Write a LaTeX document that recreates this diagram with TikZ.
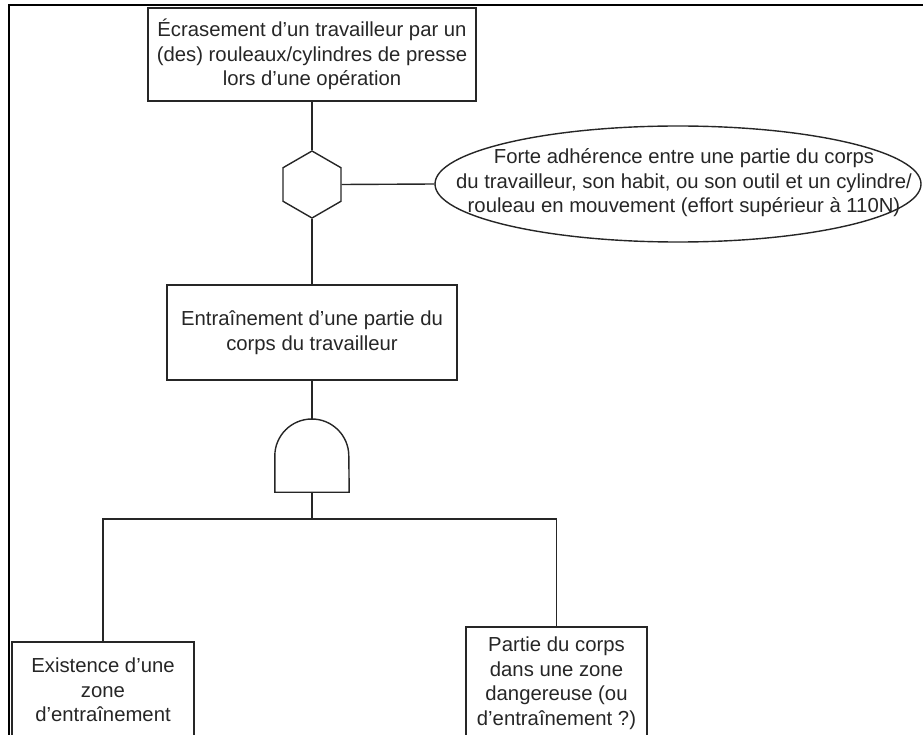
\documentclass[tikz,border=0pt]{standalone}
\usepackage{fontspec}
\setmainfont{Liberation Sans}
\usetikzlibrary{shapes.geometric}

\begin{document}
\begin{tikzpicture}[
    x=1pt, y=-1pt,
    font=\fontsize{20.3}{24.5}\selectfont,
    every node/.style={text=black!85},
    eventbox/.style={rectangle, draw=black!85, line width=1.4pt, align=center, inner sep=0pt},
    gatehex/.style={regular polygon, regular polygon sides=6, regular polygon rotate=30, minimum size=67pt, inner sep=0pt, draw=black!85, line width=1.4pt},
    condition/.style={ellipse, minimum width=486pt, minimum height=116pt, inner sep=0pt, draw=black!85, line width=1.4pt},
    andgate/.style={rectangle, minimum width=74pt, minimum height=72pt, inner sep=0pt},
    link/.style={draw=black!85, line width=1.4pt}
]

\useasboundingbox (0,0) rectangle (923,735);

% Frame
\draw[line width=1.5pt] (9,745) -- (9,5) -- (935,5);

% Events
\node[eventbox, minimum width=328pt, minimum height=93pt] (top) at (312,54.5) {Écrasement d’un travailleur par un\\(des) rouleaux/cylindres de presse\\lors d’une opération};
\node[eventbox, minimum width=290pt, minimum height=95pt] (mid) at (312,332.5) {Entraînement d’une partie du\\corps du travailleur};
\node[eventbox, minimum width=182pt, minimum height=96pt] (left) at (103,690) {Existence d’une\\zone\\d’entraînement};
\node[eventbox, minimum width=181pt, minimum height=112pt] (right) at (556.5,683) {Partie du corps\\dans une zone\\dangereuse (ou\\d’entraînement ?)};

% Inhibit gate and its condition
\node[gatehex] (hex) at (312,184.5) {};
\node[condition] (cond) at (678,184) {};
\node[align=center] (condtext) at (684,183) {Forte adhérence entre une partie du corps\\du travailleur, son habit, ou son outil et un cylindre/\\rouleau en mouvement (effort supérieur à 110N)};

% AND gate
\node[andgate] (and1) at (312,456) {};
\draw[link] (and1.south west) -- (and1.west) arc[start angle=180, end angle=0, radius=37pt] -- (and1.south east) -- cycle;
\coordinate (bus) at (312,519);

% Connections
\draw[link] (top.south) -- (hex.north);
\draw[link] (hex.east) -- (cond.west);
\draw[link] (hex.south) -- (mid.north);
\draw[link] (mid.south) -- (and1.north);
\draw[link] (and1.south) -- (bus);
\draw[link] (left.north) |- (bus) -| (right.north);

\end{tikzpicture}
\end{document}
